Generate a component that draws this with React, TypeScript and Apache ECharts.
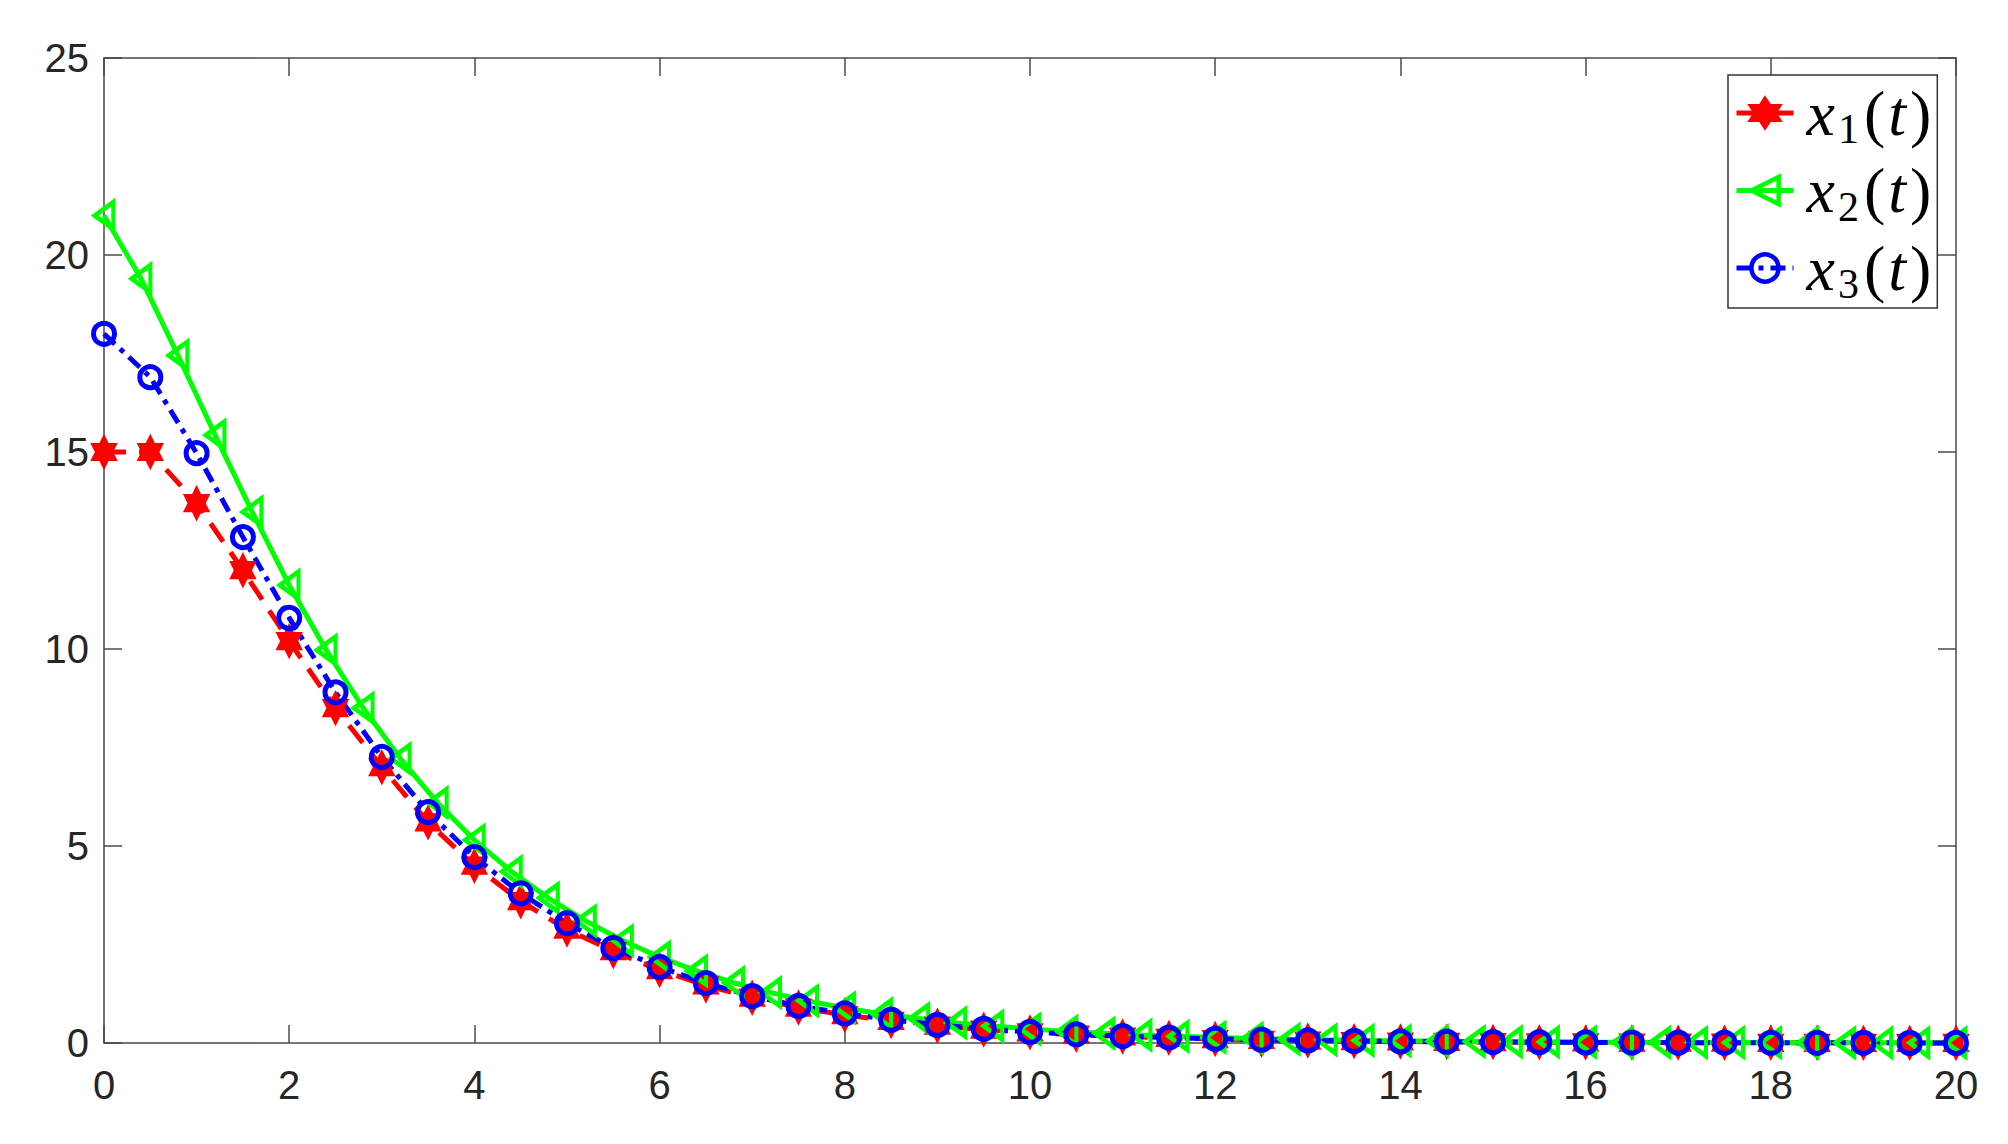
import React, { useEffect, useRef } from 'react';
import * as echarts from 'echarts';

// time grids
const tHalf = [0, 0.5, 1, 1.5, 2, 2.5, 3, 3.5, 4, 4.5, 5, 5.5, 6, 6.5, 7, 7.5, 8, 8.5, 9, 9.5, 10,
  10.5, 11, 11.5, 12, 12.5, 13, 13.5, 14, 14.5, 15, 15.5, 16, 16.5, 17, 17.5, 18, 18.5, 19, 19.5, 20];
const tFine = [0, 0.4, 0.8, 1.2, 1.6, 2, 2.4, 2.8, 3.2, 3.6, 4, 4.4, 4.8, 5.2, 5.6, 6, 6.4, 6.8, 7.2, 7.6, 8,
  8.4, 8.8, 9.2, 9.6, 10, 10.4, 10.8, 11.2, 11.6, 12, 12.4, 12.8, 13.2, 13.6, 14, 14.4, 14.8, 15.2, 15.6, 16,
  16.4, 16.8, 17.2, 17.6, 18, 18.4, 18.8, 19.2, 19.6, 20];

// series values
const x1 = [15.0, 15.0, 13.7, 12.0, 10.2, 8.5, 7.0, 5.6, 4.5, 3.6, 2.88, 2.33, 1.85, 1.46, 1.15, 0.9, 0.71, 0.56,
  0.44, 0.34, 0.27, 0.21, 0.165, 0.13, 0.1, 0.08, 0.062, 0.048, 0.038, 0.03, 0.023, 0.018, 0.014, 0.011, 0.009,
  0.007, 0.005, 0.004, 0.003, 0.0025, 0.002];
const x2 = [21.0, 19.4, 17.45, 15.43, 13.48, 11.62, 9.97, 8.5, 7.22, 6.1, 5.15, 4.35, 3.68, 3.1, 2.6, 2.18, 1.83,
  1.53, 1.28, 1.07, 0.89, 0.74, 0.62, 0.51, 0.43, 0.355, 0.295, 0.245, 0.2, 0.17, 0.14, 0.115, 0.095, 0.08, 0.066,
  0.055, 0.045, 0.037, 0.031, 0.026, 0.021, 0.018, 0.015, 0.012, 0.01, 0.008, 0.007, 0.006, 0.005, 0.004, 0.003];
const x3 = [18.0, 16.9, 14.97, 12.84, 10.79, 8.9, 7.26, 5.86, 4.72, 3.8, 3.04, 2.41, 1.93, 1.52, 1.19, 0.94, 0.75,
  0.59, 0.46, 0.36, 0.28, 0.22, 0.175, 0.137, 0.107, 0.084, 0.066, 0.052, 0.041, 0.032, 0.025, 0.02, 0.015, 0.012,
  0.0095, 0.0075, 0.006, 0.0045, 0.0035, 0.003, 0.002];

const seriesNames = ['x1(t)', 'x2(t)', 'x3(t)'];

function hexagram(): string {
  const R = 10;
  const r = R / Math.sqrt(3);
  const pts: string[] = [];
  for (let k = 0; k < 12; k++) {
    const a = ((-90 + k * 30) * Math.PI) / 180;
    const rad = k % 2 === 0 ? R : r;
    pts.push(`${(k === 0 ? 'M' : 'L')}${(R + rad * Math.cos(a)).toFixed(3)},${(R + rad * Math.sin(a)).toFixed(3)}`);
  }
  return 'path://' + pts.join(' ') + ' Z';
}

const axisColor = '#4a4a4a';
const labelColor = '#262626';

export default function App() {
  const ref = useRef<HTMLDivElement>(null);
  useEffect(() => {
    if (!ref.current) return;
    const chart = echarts.init(ref.current, null, { renderer: 'svg' });
    const pair = (ts: number[], vs: number[]) => ts.map((t, i) => [t, vs[i]]);
    const commonX = {
      type: 'value', min: 0, max: 20, interval: 2,
      splitLine: { show: false },
      axisLine: { show: true, onZero: false, lineStyle: { color: axisColor, width: 1.5 } },
      axisTick: { show: true, inside: true, length: 18, lineStyle: { color: axisColor, width: 1.5 } },
    };
    const commonY = {
      type: 'value', min: 0, max: 25, interval: 5,
      splitLine: { show: false },
      axisLine: { show: true, onZero: false, lineStyle: { color: axisColor, width: 1.5 } },
      axisTick: { show: true, inside: true, length: 18, lineStyle: { color: axisColor, width: 1.5 } },
    };
    const labelStyle = { color: labelColor, fontFamily: 'Liberation Sans', fontSize: 40 };
    const serif = 'Liberation Serif';
    chart.setOption({
      animation: false,
      backgroundColor: '#ffffff',
      grid: { left: 104, right: 52, top: 58, bottom: 101, containLabel: false },
      xAxis: [
        { ...commonX, position: 'bottom', axisLabel: { ...labelStyle, margin: 22 } },
        { ...commonX, position: 'top', axisLabel: { show: false } },
      ],
      yAxis: [
        { ...commonY, position: 'left', axisLabel: { ...labelStyle, margin: 15 } },
        { ...commonY, position: 'right', axisLabel: { show: false } },
      ],
      legend: {
        orient: 'vertical',
        left: 1728,
        top: 75,
        padding: [1, 6, 3, 6],
        itemGap: 3.5,
        itemWidth: 57,
        itemHeight: 34,
        backgroundColor: '#ffffff',
        borderColor: '#333333',
        borderWidth: 1.5,
        borderRadius: 0,
        lineStyle: { width: 5 },
        itemStyle: { borderWidth: 4.5 },
        data: seriesNames,
        formatter: (name: string) => `{v|x}{s|${name.charAt(1)}}{p|(}{t|t}{q|)}`,
        textStyle: {
          rich: {
            v: { fontFamily: serif, fontStyle: 'italic', fontSize: 64, lineHeight: 64, color: '#000', padding: [0, 3, 0, 8] },
            s: { fontFamily: serif, fontSize: 42, lineHeight: 32, padding: [32, 5, 0, 0], color: '#000' },
            p: { fontFamily: serif, fontSize: 64, lineHeight: 64, color: '#000', padding: [0, 3, 0, 0] },
            t: { fontFamily: serif, fontStyle: 'italic', fontSize: 64, lineHeight: 64, color: '#000', padding: [0, 4, 0, 0] },
            q: { fontFamily: serif, fontSize: 64, lineHeight: 64, color: '#000' },
          },
        },
      },
      series: [
        {
          name: seriesNames[0], type: 'line', clip: false,
          data: pair(tHalf, x1),
          symbol: hexagram(), symbolSize: [26, 30], symbolKeepAspect: true,
          lineStyle: { color: '#ff0000', width: 5, type: [22, 13] },
          itemStyle: { color: '#ff0000', borderColor: '#ff0000', borderWidth: 3 },
        },
        {
          name: seriesNames[1], type: 'line', clip: false,
          data: pair(tFine, x2),
          symbol: 'path://M0,13 L22,0 L22,26 Z', symbolSize: [22, 27], symbolKeepAspect: true,
          lineStyle: { color: '#00ff00', width: 5, type: 'solid' },
          itemStyle: { color: 'rgba(255,255,255,0)', borderColor: '#00ff00', borderWidth: 4.5 },
        },
        {
          name: seriesNames[2], type: 'line', clip: false,
          data: pair(tHalf, x3),
          symbol: 'circle', symbolSize: 21,
          lineStyle: { color: '#0000ff', width: 5, type: [15, 7, 5, 7] },
          itemStyle: { color: 'rgba(255,255,255,0)', borderColor: '#0000ff', borderWidth: 5 },
        },
      ],
    });
    return () => chart.dispose();
  }, []);
  return (
    <div
      ref={ref}
      style={{ position: 'absolute', left: 0, top: 0, width: 2008, height: 1144, background: '#fff' }}
    />
  );
}
